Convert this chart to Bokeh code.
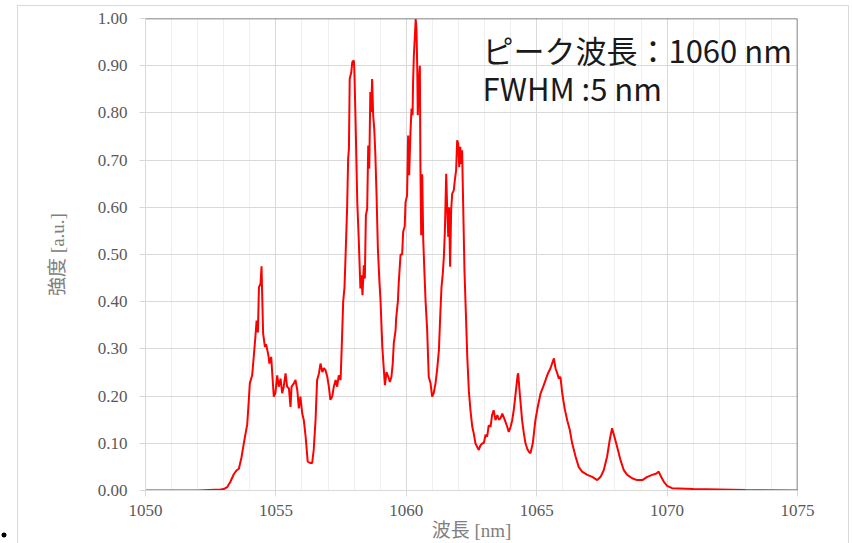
from bokeh.plotting import figure
from bokeh.models import (Range1d, SingleIntervalTicker, NumeralTickFormatter,
                          Span, Label)
from bokeh.embed import file_html
from bokeh.resources import INLINE

wavelength = [
    1050.0, 1051.0, 1052.0, 1052.88, 1053.0, 1053.13, 1053.25, 1053.39, 1053.5, 1053.58,
    1053.68, 1053.77, 1053.90, 1053.96, 1054.0, 1054.09, 1054.15, 1054.22, 1054.26, 1054.31,
    1054.35, 1054.41, 1054.45, 1054.47, 1054.51, 1054.58, 1054.62, 1054.67, 1054.72, 1054.75,
    1054.82, 1054.86, 1054.92, 1054.98, 1055.05, 1055.11, 1055.18, 1055.24, 1055.30, 1055.37,
    1055.43, 1055.50, 1055.56, 1055.60, 1055.69, 1055.75, 1055.82, 1055.88, 1055.94, 1056.01,
    1056.07, 1056.14, 1056.22, 1056.33, 1056.39, 1056.45, 1056.52, 1056.58, 1056.65, 1056.71,
    1056.78, 1056.84, 1056.90, 1056.97, 1057.03, 1057.09, 1057.16, 1057.22, 1057.29, 1057.35,
    1057.41, 1057.48, 1057.52, 1057.58, 1057.63, 1057.67, 1057.73, 1057.77, 1057.80, 1057.83,
    1057.89, 1057.93, 1057.99, 1058.01, 1058.05, 1058.12, 1058.18, 1058.24, 1058.28, 1058.32,
    1058.37, 1058.41, 1058.45, 1058.50, 1058.54, 1058.58, 1058.62, 1058.65, 1058.69, 1058.73,
    1058.77, 1058.81, 1058.86, 1058.91, 1058.97, 1059.01, 1059.08, 1059.14, 1059.18, 1059.24,
    1059.31, 1059.37, 1059.43, 1059.48, 1059.52, 1059.59, 1059.61, 1059.68, 1059.71, 1059.78,
    1059.84, 1059.88, 1059.94, 1059.97, 1060.03, 1060.07, 1060.11, 1060.16, 1060.20, 1060.24,
    1060.26, 1060.29, 1060.33, 1060.36, 1060.39, 1060.42, 1060.44, 1060.48, 1060.52, 1060.54,
    1060.57, 1060.61, 1060.65, 1060.69, 1060.74, 1060.80, 1060.86, 1060.93, 1060.99, 1061.05,
    1061.12, 1061.18, 1061.25, 1061.31, 1061.35, 1061.40, 1061.44, 1061.48, 1061.53, 1061.57,
    1061.61, 1061.64, 1061.68, 1061.72, 1061.76, 1061.82, 1061.86, 1061.91, 1061.95, 1061.99,
    1062.03, 1062.07, 1062.11, 1062.14, 1062.18, 1062.23, 1062.28, 1062.34, 1062.40, 1062.46,
    1062.53, 1062.59, 1062.65, 1062.72, 1062.78, 1062.84, 1062.91, 1062.97, 1063.04, 1063.10,
    1063.16, 1063.23, 1063.29, 1063.35, 1063.42, 1063.49, 1063.55, 1063.61, 1063.68, 1063.74,
    1063.80, 1063.87, 1063.93, 1064.00, 1064.06, 1064.12, 1064.18, 1064.22, 1064.27, 1064.29,
    1064.35, 1064.44, 1064.51, 1064.57, 1064.64, 1064.70, 1064.76, 1064.85, 1064.95, 1065.04,
    1065.15, 1065.25, 1065.34, 1065.43, 1065.53, 1065.59, 1065.66, 1065.72, 1065.79, 1065.85,
    1065.91, 1065.98, 1066.07, 1066.17, 1066.27, 1066.36, 1066.49, 1066.61, 1066.74, 1066.94,
    1067.13, 1067.32, 1067.45, 1067.57, 1067.70, 1067.80, 1067.89, 1067.98, 1068.08, 1068.21,
    1068.34, 1068.47, 1068.66, 1068.85, 1069.05, 1069.24, 1069.43, 1069.59, 1069.68, 1069.77,
    1069.87, 1070.00, 1070.19, 1071.0, 1072.0, 1073.0, 1075.0,
]
intensity = [
    0.0, 0.0, 0.0, 0.002, 0.003, 0.007, 0.018, 0.035, 0.043, 0.046,
    0.07, 0.10, 0.14, 0.19, 0.227, 0.244, 0.283, 0.33, 0.36, 0.335,
    0.431, 0.438, 0.475, 0.424, 0.333, 0.304, 0.31, 0.298, 0.284, 0.269,
    0.283, 0.248, 0.199, 0.206, 0.244, 0.22, 0.237, 0.206, 0.22, 0.248,
    0.22, 0.216, 0.177, 0.22, 0.227, 0.234, 0.213, 0.174, 0.199, 0.163,
    0.149, 0.114, 0.061, 0.058, 0.058, 0.086, 0.149, 0.234, 0.248, 0.269,
    0.251, 0.259, 0.255, 0.241, 0.22, 0.192, 0.199, 0.22, 0.234, 0.22,
    0.244, 0.234, 0.297, 0.40, 0.43, 0.495, 0.597, 0.703, 0.724, 0.872,
    0.886, 0.908, 0.911, 0.886, 0.795, 0.611, 0.527, 0.428, 0.456, 0.414,
    0.477, 0.449, 0.583, 0.597, 0.731, 0.682, 0.844, 0.802, 0.872, 0.795,
    0.767, 0.717, 0.625, 0.513, 0.442, 0.405, 0.304, 0.255, 0.223, 0.251,
    0.241, 0.23, 0.241, 0.269, 0.312, 0.34, 0.364, 0.403, 0.44, 0.50,
    0.50, 0.548, 0.56, 0.611, 0.625, 0.752, 0.668, 0.759, 0.809, 0.795,
    0.865, 0.922, 0.964, 0.999, 0.978, 0.894, 0.795, 0.865, 0.90, 0.696,
    0.541, 0.67, 0.53, 0.47, 0.40, 0.34, 0.241, 0.227, 0.199, 0.206,
    0.227, 0.255, 0.297, 0.382, 0.431, 0.46, 0.495, 0.551, 0.671, 0.594,
    0.537, 0.60, 0.474, 0.594, 0.629, 0.636, 0.657, 0.678, 0.742, 0.735,
    0.685, 0.728, 0.692, 0.721, 0.608, 0.467, 0.382, 0.28, 0.21, 0.17,
    0.135, 0.12, 0.10, 0.092, 0.086, 0.095, 0.10, 0.10, 0.118, 0.114,
    0.138, 0.135, 0.16, 0.17, 0.149, 0.16, 0.15, 0.153, 0.163, 0.155,
    0.146, 0.135, 0.124, 0.135, 0.149, 0.17, 0.20, 0.22, 0.245, 0.248,
    0.206, 0.149, 0.12, 0.10, 0.088, 0.082, 0.079, 0.10, 0.149, 0.177,
    0.206, 0.22, 0.234, 0.248, 0.259, 0.269, 0.28, 0.259, 0.248, 0.237,
    0.241, 0.206, 0.174, 0.149, 0.128, 0.10, 0.072, 0.05, 0.04, 0.033,
    0.029, 0.022, 0.029, 0.043, 0.072, 0.107, 0.132, 0.114, 0.093, 0.065,
    0.043, 0.033, 0.026, 0.022, 0.022, 0.029, 0.033, 0.036, 0.04, 0.029,
    0.019, 0.01, 0.005, 0.003, 0.002, 0.001, 0.0,
]

x_label = "波長 [nm]"
y_label = "強度 [a.u.]"
note_lines = ["ピーク波長：1060 nm", "FWHM :5 nm"]
note_x = 1062.92
note_y = [0.935, 0.853]

p = figure(width=852, height=543, output_backend="svg", toolbar_location=None,
           x_range=Range1d(1050, 1075), y_range=Range1d(0, 1.0),
           min_border_left=145, min_border_right=55, min_border_top=18,
           min_border_bottom=53, background_fill_color="white",
           border_fill_color=None)
p.outline_line_color = None

# outer chart-area border and the stray list bullet, drawn as CSS backgrounds
# behind the transparent canvas border
p.styles = {
    "background-color": "white",
    "background-image": ("linear-gradient(#d9d9d9,#d9d9d9), linear-gradient(#d9d9d9,#d9d9d9), "
                         "linear-gradient(#d9d9d9,#d9d9d9), "
                         "radial-gradient(circle, #000 0px, #000 2.2px, rgba(0,0,0,0) 2.8px)"),
    "background-size": "831px 1px, 1px 538px, 1px 538px, 8px 8px",
    "background-position": "17px 5px, 17px 5px, 848px 5px, 0px 531px",
    "background-repeat": "no-repeat",
}

p.line(wavelength, intensity, line_color="#ff0000", line_width=2)

tick_font = "Liberation Serif"
label_font = "Liberation Serif, 'Noto Sans CJK JP'"

p.xaxis.ticker = SingleIntervalTicker(interval=5, num_minor_ticks=5)
p.yaxis.ticker = SingleIntervalTicker(interval=0.1, num_minor_ticks=0)
p.yaxis.formatter = NumeralTickFormatter(format="0.00")
for ax in (p.xaxis[0], p.yaxis[0]):
    ax.axis_line_color = "#d9d9d9"
    ax.major_tick_line_color = "#d9d9d9"
    ax.major_tick_out = 6
    ax.major_tick_in = 0
    ax.minor_tick_line_color = None
    ax.major_label_text_font = tick_font
    ax.major_label_text_font_size = "17px"
    ax.major_label_text_color = "#595959"
    ax.axis_label_text_font = label_font
    ax.axis_label_text_font_size = "19px"
    ax.axis_label_text_color = "#808080"
    ax.axis_label_text_font_style = "normal"
p.xaxis.axis_label = x_label
p.yaxis.axis_label = y_label
p.xaxis.major_label_standoff = 8
p.yaxis.major_label_standoff = 12
p.xaxis.axis_label_standoff = 1
p.yaxis.axis_label_standoff = 27

p.xgrid.grid_line_color = "#d9d9d9"
p.xgrid.minor_grid_line_color = "#efefef"
p.ygrid.grid_line_color = "#d9d9d9"

p.add_layout(Span(location=1.0, dimension="width", line_color="#595959", line_width=1.5))
p.add_layout(Span(location=1075, dimension="height", line_color="#595959", line_width=1.5))

for txt, yy in zip(note_lines, note_y):
    p.add_layout(Label(x=note_x, y=yy, text=txt, text_font="Noto Sans CJK JP",
                       text_font_size="31px", text_color="#1a1a1a",
                       text_baseline="middle", text_align="left"))

open("out.html", "w").write(file_html(p, INLINE))
